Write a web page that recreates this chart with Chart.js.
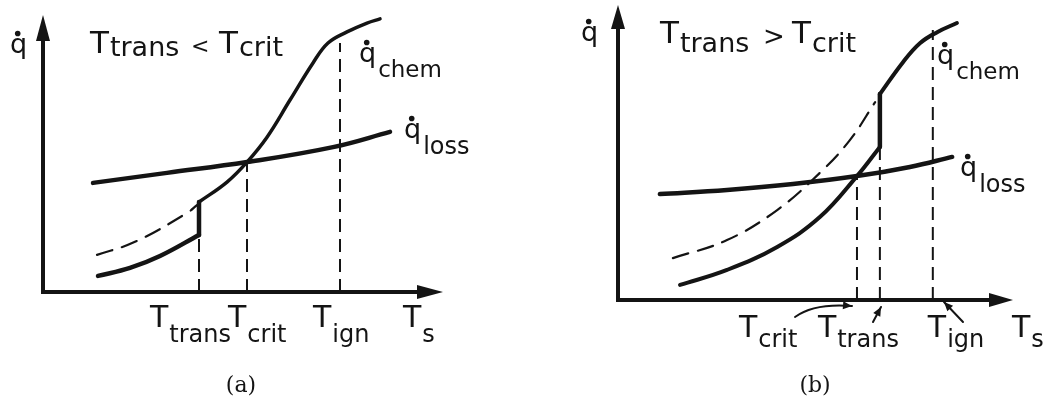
<!DOCTYPE html>
<html>
<head>
<meta charset="utf-8">
<script src="https://cdn.jsdelivr.net/npm/chart.js@4.4.0/dist/chart.umd.min.js"></script>
<style>
  body { margin: 0; background: #fff; width: 1048px; height: 400px; overflow: hidden; position: relative; }
  .panel { position: absolute; top: 0; width: 524px; height: 400px; }
</style>
</head>
<body>
<div class="panel" style="left:0"><canvas id="chartA" width="524" height="400"></canvas></div>
<div class="panel" style="left:524px"><canvas id="chartB" width="524" height="400"></canvas></div>
<script>
// Both panels use arbitrary units 0..100 on each axis (T_s -> x, q -> y)

// panel (a): T_trans < T_crit
const lossA = [[12.5, 39.4], [31, 43.0], [51, 46.9], [72.5, 52.3], [86.75, 57.8]];
const chemLowA = [[13.75, 5.8], [21.75, 8.7], [29.25, 13.0], [39, 20.6]];
const chemJumpA = [[39, 20.6], [39, 32.5]];
const chemHighA = [[39, 32.5], [46, 39.7], [51, 46.9], [56, 55.9], [61.75, 69.3], [67.5, 82.7], [71.25, 89.9], [76, 93.9], [81, 97.1], [84.25, 98.6]];
const chemDashA = [[13.5, 13.4], [23, 18.1], [36, 28.5], [38.5, 31.4]];
const tickXA = [39, 51, 74.25];          // T_trans, T_crit, T_ign
const tickTopA = [20.6, 46.9, 89.9];
const tickSubA = ["trans", "crit", "ign"];

// panel (b): T_trans > T_crit
const lossB = [[10.6, 35.9], [27.6, 37.3], [44.3, 39.3], [60.5, 42.0], [73.9, 45.1], [84.6, 48.5]];
const chemLowB = [[15.7, 5.1], [27.6, 10.2], [40.3, 18.0], [51.1, 28.1], [60.5, 42.0], [66.3, 51.9]];
const chemJumpB = [[66.3, 51.9], [66.3, 69.8]];
const chemHighB = [[66.3, 69.8], [72.2, 80.7], [76.5, 87.1], [80.8, 90.8], [85.8, 93.9]];
const chemDashB = [[13.9, 14.2], [27.6, 20.3], [40.3, 30.5], [51.1, 43.1], [58.7, 54.2], [65.1, 67.1]];
const tickXB = [60.5, 66.3, 79.7];       // T_crit, T_trans, T_ign
const tickTopB = [42.0, 51.9, 91.5];
const tickSubB = ["crit", "trans", "ign"];

const INK = "#141414";

function pts(arr) { return arr.map(p => ({ x: p[0], y: p[1] })); }

function curve(arr, width, dash) {
  return {
    data: pts(arr),
    borderColor: INK,
    borderWidth: width,
    borderDash: dash || [],
    borderCapStyle: "round",
    borderJoinStyle: "round",
    tension: 0.4,
    pointRadius: 0,
    fill: false,
  };
}

function dropLines(xs, tops) {
  return xs.map((x, i) => ({
    data: [{ x: x, y: 0 }, { x: x, y: tops[i] }],
    borderColor: INK,
    borderWidth: 2,
    borderDash: [13, 7],
    pointRadius: 0,
    fill: false,
  }));
}

// T with subscript, main letter then lowered smaller text
function subText(ctx, x, y, main, sub, mainSize, subSize, dy) {
  ctx.font = mainSize + "px 'DejaVu Sans'";
  ctx.fillText(main, x, y);
  const w = ctx.measureText(main).width;
  ctx.font = subSize + "px 'DejaVu Sans'";
  ctx.fillText(sub, x + w + 1, y + dy);
}

function qDot(ctx, x, y, sub, qSize, subSize, dy) {
  ctx.font = qSize + "px 'DejaVu Sans'";
  ctx.fillText("q", x, y);
  const w = ctx.measureText("q").width;
  ctx.beginPath();
  ctx.arc(x + w * 0.45, y - qSize * 0.72, 2.8, 0, Math.PI * 2);
  ctx.fill();
  if (sub) {
    ctx.font = subSize + "px 'DejaVu Sans'";
    ctx.fillText(sub, x + w + 2, y + dy);
  }
}

function arrowHead(ctx, tx, ty, ang, len, half) {
  ctx.beginPath();
  ctx.moveTo(tx, ty);
  ctx.lineTo(tx - len * Math.cos(ang) + half * Math.sin(ang), ty - len * Math.sin(ang) - half * Math.cos(ang));
  ctx.lineTo(tx - len * Math.cos(ang) - half * Math.sin(ang), ty - len * Math.sin(ang) + half * Math.cos(ang));
  ctx.closePath();
  ctx.fill();
}

const sketch = {
  id: "sketch",
  afterDraw(chart, args, o) {
    const ctx = chart.ctx;
    const a = chart.chartArea;
    const xs = chart.scales.x;
    ctx.save();
    ctx.fillStyle = INK;
    ctx.strokeStyle = INK;
    // axes with arrows
    ctx.lineWidth = 4;
    ctx.lineCap = "butt";
    ctx.beginPath();
    ctx.moveTo(a.left, a.bottom);
    ctx.lineTo(a.left, a.top + o.headLen - 2);
    ctx.moveTo(a.left - 2, a.bottom);
    ctx.lineTo(a.right - o.headLen + 2, a.bottom);
    ctx.stroke();
    arrowHead(ctx, a.left, a.top, -Math.PI / 2, o.headLen, 7);
    arrowHead(ctx, a.right, a.bottom, 0, o.headLen, 7);

    // texts
    ctx.textBaseline = "alphabetic";
    ctx.textAlign = "left";
    qDot(ctx, o.qAxis[0], o.qAxis[1], null, 27);
    const t = o.title;
    subText(ctx, t.x, t.y, "T", "trans", 31, t.sub, t.dy);
    ctx.font = t.opSize + "px 'DejaVu Sans'";
    ctx.fillText(t.op, t.opX, t.opY);
    subText(ctx, t.x2, t.y, "T", "crit", 31, t.sub, t.dy);
    qDot(ctx, o.chem[0], o.chem[1], "chem", 27, 23, 15);
    qDot(ctx, o.loss[0], o.loss[1], "loss", 27, 24, 16);

    // tick labels under the T_s axis
    o.ticks.forEach((tk) => {
      const px = xs.getPixelForValue(tk.at) + tk.dx;
      subText(ctx, px, o.tickY, "T", tk.sub, 30, 24, o.tickDy);
    });
    subText(ctx, a.right + o.sX, o.tickY, "T", "s", 30, 24, o.tickDy);

    // little pointer arrows (panel b)
    ctx.lineWidth = 2;
    ctx.lineCap = "round";
    (o.pointers || []).forEach((p) => {
      ctx.beginPath();
      ctx.moveTo(p[0], p[1]);
      if (p.length === 6) ctx.quadraticCurveTo(p[2], p[3], p[4], p[5]);
      else ctx.lineTo(p[2], p[3]);
      ctx.stroke();
      const ex = p[p.length - 2], ey = p[p.length - 1];
      const cx = p[p.length - 4], cy = p[p.length - 3];
      arrowHead(ctx, ex, ey, Math.atan2(ey - cy, ex - cx), 9, 4);
    });

    // caption
    ctx.font = "22px 'DejaVu Serif'";
    ctx.textAlign = "center";
    ctx.fillText(o.caption[0], o.caption[1], o.caption[2]);
    ctx.restore();
  },
};

function makeChart(id, sets, pad, plug) {
  return new Chart(document.getElementById(id), {
    type: "line",
    data: { datasets: sets },
    options: {
      responsive: false,
      animation: false,
      layout: { padding: pad },
      scales: {
        x: { type: "linear", min: 0, max: 100, display: false },
        y: { type: "linear", min: 0, max: 100, display: false },
      },
      plugins: { legend: { display: false }, tooltip: { enabled: false }, sketch: plug },
    },
    plugins: [sketch],
  });
}

makeChart("chartA",
  [
    curve(lossA, 4.5),
    curve(chemLowA, 4.5),
    curve(chemJumpA, 4.5),
    curve(chemHighA, 3.5),
    curve(chemDashA, 2.2, [16, 10]),
    ...dropLines(tickXA, tickTopA),
  ],
  { left: 43, right: 81, top: 15, bottom: 108 },
  {
    headLen: 26,
    qAxis: [10, 53],
    title: { x: 90, y: 53, op: "<", opX: 191, opY: 53, opSize: 22, x2: 219, sub: 27, dy: 3 },
    chem: [359, 62],
    loss: [404, 138],
    ticks: [
      { at: tickXA[0], sub: tickSubA[0], dx: -49 },
      { at: tickXA[1], sub: tickSubA[1], dx: -19 },
      { at: tickXA[2], sub: tickSubA[2], dx: -27 },
    ],
    tickY: 327,
    tickDy: 15,
    sX: -40,
    caption: ["(a)", 241, 392],
  }
);

makeChart("chartB",
  [
    curve(lossB, 4.5),
    curve(chemLowB, 4),
    curve(chemJumpB, 4.5),
    curve(chemHighB, 4),
    curve(chemDashB, 2.2, [16, 10]),
    ...dropLines(tickXB, tickTopB),
  ],
  { left: 94, right: 35, top: 5, bottom: 100 },
  {
    headLen: 24,
    qAxis: [57, 41],
    title: { x: 136, y: 43, op: ">", opX: 239, opY: 45, opSize: 26, x2: 268, sub: 27, dy: 9 },
    chem: [413, 64],
    loss: [436, 176],
    ticks: [
      { at: tickXB[0], sub: tickSubB[0], dx: -118 },
      { at: tickXB[1], sub: tickSubB[1], dx: -62 },
      { at: tickXB[2], sub: tickSubB[2], dx: -5 },
    ],
    tickY: 337,
    tickDy: 10,
    sX: -1,
    pointers: [
      [271, 317, 290, 303, 328, 306],
      [349, 322, 357, 307],
      [439, 322, 420, 302],
    ],
    caption: ["(b)", 291, 392],
  }
);
</script>
</body>
</html>
